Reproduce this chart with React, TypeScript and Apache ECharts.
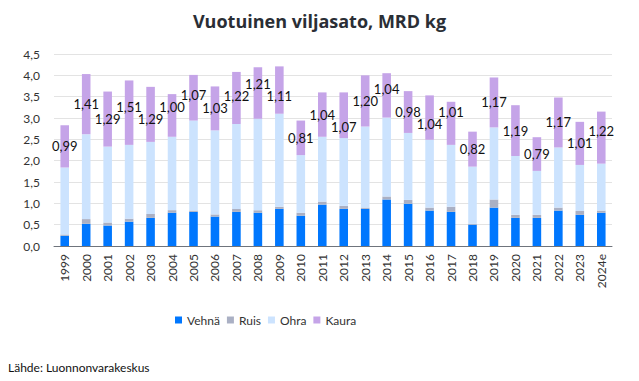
import React, { useEffect, useRef } from "react";
import * as echarts from "echarts";

const years = ["1999","2000","2001","2002","2003","2004","2005","2006","2007","2008","2009","2010","2011","2012","2013","2014","2015","2016","2017","2018","2019","2020","2021","2022","2023","2024e"];
const vehna = [0.24,0.52,0.48,0.57,0.66,0.78,0.80,0.69,0.80,0.78,0.87,0.71,0.97,0.87,0.87,1.09,0.99,0.83,0.80,0.50,0.90,0.66,0.66,0.83,0.73,0.78];
const ruis = [0.03,0.11,0.07,0.07,0.09,0.06,0.03,0.05,0.07,0.06,0.05,0.07,0.07,0.07,0.03,0.07,0.09,0.07,0.12,0.02,0.19,0.07,0.07,0.07,0.09,0.05];
const ohra = [1.57,1.99,1.78,1.73,1.69,1.72,2.11,1.97,1.99,2.14,2.18,1.35,1.52,1.59,1.90,1.85,1.57,1.59,1.45,1.34,1.69,1.38,1.03,1.41,1.08,1.10];
const kaura = [0.99,1.41,1.29,1.51,1.29,1.00,1.07,1.03,1.22,1.21,1.11,0.81,1.04,1.07,1.20,1.04,0.98,1.04,1.01,0.82,1.17,1.19,0.79,1.17,1.01,1.22];
const yTicks = { min: 0, max: 4.5, interval: 0.5 };

const FONT = "Lato, 'Open Sans', sans-serif";
const fmt = (v: number, d: number) => v.toFixed(d).replace(".", ",");

export default function App() {
  const ref = useRef<HTMLDivElement>(null);
  useEffect(() => {
    document.body.style.margin = "0";
    const chart = echarts.init(ref.current!, null, { renderer: "svg" });
    // simple left-to-right collision avoidance between neighbouring labels
    const placed: Record<number, { x: number; y: number; w: number; h: number }> = {};
    const avoid = (p: any) => {
      const r = p.labelRect;
      const i = p.dataIndex;
      let y = r.y;
      const prev = placed[i - 1];
      const h = r.height - 1;
      if (prev && r.x < prev.x + prev.w && prev.x < r.x + r.width) {
        if (Math.abs(y - prev.y) < h) {
          y = y >= prev.y ? prev.y + h : prev.y - h;
        }
      }
      placed[i] = { x: r.x, y, w: r.width, h: r.height };
      return { dy: y - r.y };
    };
    const mk = (name: string, data: number[], color: string, label = false) => {
      const s: any = {
        name,
        type: "bar",
        stack: "total",
        data,
        barWidth: "40%",
        itemStyle: { color },
        label: label
          ? {
              show: true,
              position: "inside",
              color: "#111",
              fontSize: 13,
              fontFamily: FONT,
              formatter: (p: any) => fmt(p.value, 2),
            }
          : { show: false },
      };
      if (label) s.labelLayout = avoid;
      return s;
    };
    chart.setOption({
      animation: false,
      textStyle: { fontFamily: FONT },
      title: {
        text: "Vuotuinen viljasato, MRD kg",
        left: "center",
        top: 7,
        textStyle: { fontSize: 18, fontWeight: "bold", color: "#2a2e35", fontFamily: "'Open Sans', sans-serif" },
      },
      grid: { left: 54, right: 27, top: 54, bottom: 135 },
      legend: {
        left: 170,
        top: 309,
        itemWidth: 7,
        itemHeight: 7,
        itemGap: 7,
        icon: "rect",
        textStyle: { fontSize: 12, color: "#333", fontFamily: FONT },
        data: ["Vehnä", "Ruis", "Ohra", "Kaura"],
      },
      xAxis: {
        type: "category",
        data: years,
        axisTick: { show: false },
        axisLine: { lineStyle: { color: "#6f747c", width: 1 } },
        axisLabel: { rotate: 90, fontSize: 12, color: "#333", margin: 8, fontFamily: FONT },
      },
      yAxis: {
        type: "value",
        min: yTicks.min,
        max: yTicks.max,
        interval: yTicks.interval,
        axisLine: { show: false },
        axisTick: { show: false },
        splitLine: { lineStyle: { color: "#e3e3e3" } },
        axisLabel: { fontSize: 12, color: "#333", margin: 14, fontFamily: FONT, formatter: (v: number) => fmt(v, 1) },
      },
      graphic: [
        {
          type: "text",
          left: 8,
          top: 361,
          style: { text: "Lähde: Luonnonvarakeskus", fontSize: 12, fill: "#111", fontFamily: FONT },
        },
      ],
      series: [
        mk("Vehnä", vehna, "#0077fe"),
        mk("Ruis", ruis, "#aab0c4"),
        mk("Ohra", ohra, "#cce3fe"),
        mk("Kaura", kaura, "#c5a4e8", true),
      ],
    });
    return () => chart.dispose();
  }, []);
  return <div ref={ref} style={{ width: 639, height: 381 }} />;
}
